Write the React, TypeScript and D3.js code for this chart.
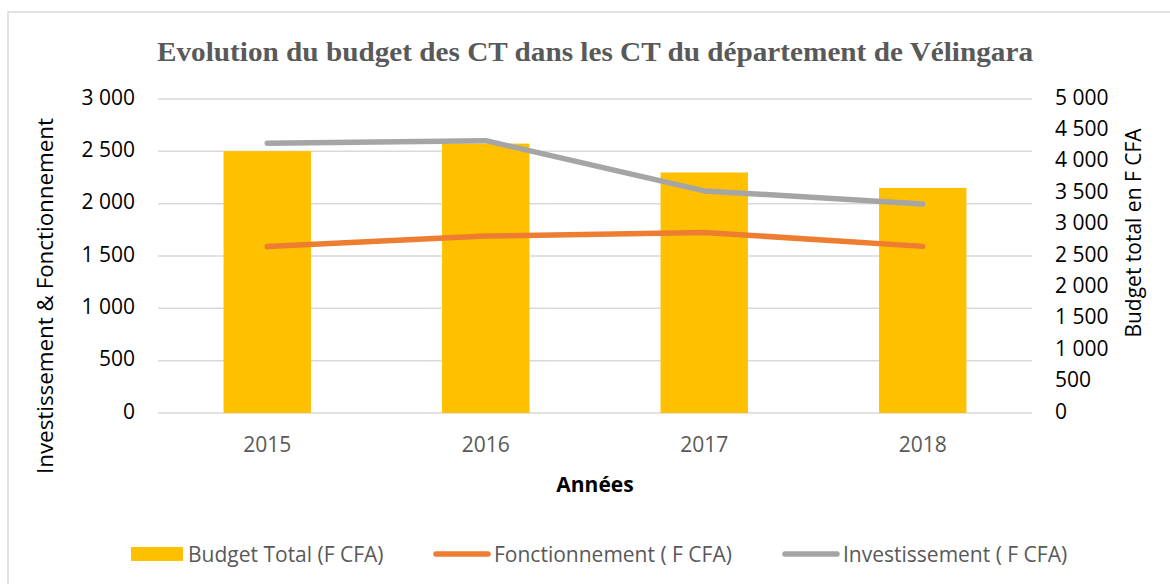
import React from "react";
import * as d3 from "d3";

const years = ["2015", "2016", "2017", "2018"];
const budgetTotal = [4170, 4290, 3830, 3585];
const fonctionnement = [1590, 1690, 1725, 1592];
const investissement = [2578, 2602, 2122, 1997];
const leftTicks = [0, 500, 1000, 1500, 2000, 2500, 3000];
const rightTicks = [0, 500, 1000, 1500, 2000, 2500, 3000, 3500, 4000, 4500, 5000];

const W = 1170;
const H = 584;
const FONT = "'Open Sans', sans-serif";
const GREY_TXT = "#595959";

export default function App() {
  const x = d3.scaleBand<string>().domain(years).range([158, 1032]).padding(0);
  const yL = d3.scaleLinear().domain([0, 3000]).range([413, 99]);
  const yR = d3.scaleLinear().domain([0, 5000]).range([413, 99]);
  const fmt = d3
    .formatLocale({ thousands: " ", grouping: [3], decimal: ",", currency: ["", ""] })
    .format(",");
  const bw = x.bandwidth() * 0.4;
  const cx = (y: string) => (x(y) as number) + x.bandwidth() / 2;
  const line = d3
    .line<number>()
    .x((_, i) => cx(years[i]))
    .y((d) => yL(d));

  return (
    <svg
      width={W}
      height={H}
      style={{ position: "absolute", left: 0, top: 0, background: "#fff" }}
      fontFamily={FONT}
    >
      <rect x={0} y={0} width={W} height={H} fill="#fff" />
      <rect x={8} y={12} width={1300} height={700} fill="#fff" stroke="#d9d9d9" strokeWidth={1.5} />
      <text
        x={595}
        y={61}
        textAnchor="middle"
        fontFamily="'Liberation Serif', serif"
        fontWeight="bold"
        fontSize={28}
        fill={GREY_TXT}
        textLength={876}
        lengthAdjust="spacingAndGlyphs"
      >
        Evolution du budget des CT dans les CT du département de Vélingara
      </text>
      {leftTicks.map((t) => (
        <g key={"g" + t}>
          <line x1={158} x2={1032} y1={yL(t)} y2={yL(t)} stroke="#d9d9d9" strokeWidth={1.5} />
          <text x={135} y={yL(t)} textAnchor="end" dominantBaseline="middle" fontSize={21} fill="#000">
            {fmt(t)}
          </text>
        </g>
      ))}
      {rightTicks.map((t) => (
        <text key={"r" + t} x={1055} y={yR(t)} dominantBaseline="middle" fontSize={21} fill="#000">
          {fmt(t)}
        </text>
      ))}
      {years.map((yr, i) => (
        <rect
          key={"b" + yr}
          x={cx(yr) - bw / 2}
          y={yR(budgetTotal[i])}
          width={bw}
          height={yR(0) - yR(budgetTotal[i])}
          fill="#FFC000"
        />
      ))}
      <path d={line(fonctionnement) || ""} fill="none" stroke="#ED7D31" strokeWidth={5.5} strokeLinecap="round" strokeLinejoin="round" />
      <path d={line(investissement) || ""} fill="none" stroke="#A5A5A5" strokeWidth={5.5} strokeLinecap="round" strokeLinejoin="round" />
      {years.map((yr) => (
        <text key={"x" + yr} x={cx(yr)} y={452} textAnchor="middle" fontSize={21} fill={GREY_TXT}>
          {yr}
        </text>
      ))}
      <text x={595} y={492} textAnchor="middle" fontSize={21} fontWeight="bold" fill="#000">
        Années
      </text>
      <text
        transform={`translate(47,296) rotate(-90)`}
        textAnchor="middle"
        dominantBaseline="middle"
        fontSize={22}
        fill="#000"
        textLength={356}
        lengthAdjust="spacingAndGlyphs"
      >
        Investissement &amp; Fonctionnement
      </text>
      <text
        transform={`translate(1135,233) rotate(-90)`}
        textAnchor="middle"
        dominantBaseline="middle"
        fontSize={21}
        fill="#000"
      >
        Budget total en F CFA
      </text>
      <rect x={131} y={547} width={52} height={14} fill="#FFC000" />
      <text x={188} y={562} fontSize={21} fill={GREY_TXT}>Budget Total (F CFA)</text>
      <line x1={436} x2={488} y1={554} y2={554} stroke="#ED7D31" strokeWidth={5.5} strokeLinecap="round" />
      <text x={494} y={562} fontSize={21} fill={GREY_TXT}>Fonctionnement ( F CFA)</text>
      <line x1={785} x2={837} y1={554} y2={554} stroke="#A5A5A5" strokeWidth={5.5} strokeLinecap="round" />
      <text x={843} y={562} fontSize={21} fill={GREY_TXT}>Investissement ( F CFA)</text>
    </svg>
  );
}
